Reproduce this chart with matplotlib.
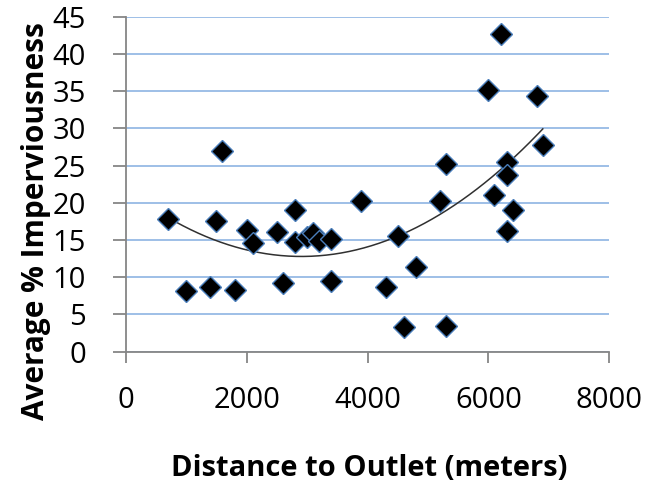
import numpy as np
import matplotlib
matplotlib.use('Agg')
import matplotlib.pyplot as plt

# distance from outlet (m) and mean imperviousness (%) per subwatershed
distance = [700, 1000, 1400, 1500, 1600, 1800, 2000, 2100, 2500, 2600,
            2800, 2800, 3000, 3100, 3200, 3400, 3400, 3900, 4300, 4500,
            4600, 4800, 5200, 5300, 5300, 6000, 6100, 6200, 6300, 6300,
            6300, 6400, 6800, 6900]
impervious = [17.8, 8.1, 8.7, 17.5, 27.0, 8.3, 16.4, 14.6, 16.1, 9.2,
              19.0, 14.8, 15.4, 15.9, 14.9, 15.2, 9.5, 20.3, 8.7, 15.5,
              3.3, 11.4, 20.3, 25.2, 3.4, 35.1, 21.0, 42.7, 25.5, 23.7,
              16.2, 19.0, 34.3, 27.8]

x_ticks = [0, 2000, 4000, 6000, 8000]
y_ticks = list(range(0, 50, 5))

plt.rcParams['font.family'] = ['Open Sans', 'DejaVu Sans']

fig = plt.figure(figsize=(6.53, 4.83), dpi=100)
ax = fig.add_axes([0.1925, 0.2718, 0.7406, 0.6936])

# second-order polynomial trendline
coef = np.polyfit(distance, impervious, 2)
xs = np.linspace(min(distance), max(distance), 200)
ax.plot(xs, np.polyval(coef, xs), color='#303030', lw=1.1, zorder=3)

ax.plot(distance, impervious, linestyle='none', marker='D', markersize=11,
        markerfacecolor='black', markeredgecolor='#4a7ebb', markeredgewidth=1.0,
        zorder=4)

ax.set_xlim(0, 8000)
ax.set_ylim(0, 45)
ax.set_xticks(x_ticks)
ax.set_yticks(y_ticks)

ax.yaxis.grid(True, color='#8eb4e3', lw=1.2)
ax.set_axisbelow(True)
for s in ['top', 'right']:
    ax.spines[s].set_visible(False)
for s in ['left', 'bottom']:
    ax.spines[s].set_color('#868686')
    ax.spines[s].set_linewidth(1.3)

ax.tick_params(axis='y', length=9.5, width=1.3, color='#868686', pad=19,
               labelsize=21)
ax.tick_params(axis='x', length=8, width=1.3, color='#868686', pad=17,
               labelsize=21)

# axis titles placed in figure coordinates
fig.text(369 / 653, 1 - 476 / 483, 'Distance to Outlet (meters)',
         fontsize=21, fontweight='bold', ha='center', va='baseline')
fig.text(36 / 653, 1 - 221 / 483, 'Average % Imperviousness',
         fontsize=21.4, fontweight='bold', ha='center', va='center',
         rotation=90)

fig.savefig('out.png', dpi=100)
